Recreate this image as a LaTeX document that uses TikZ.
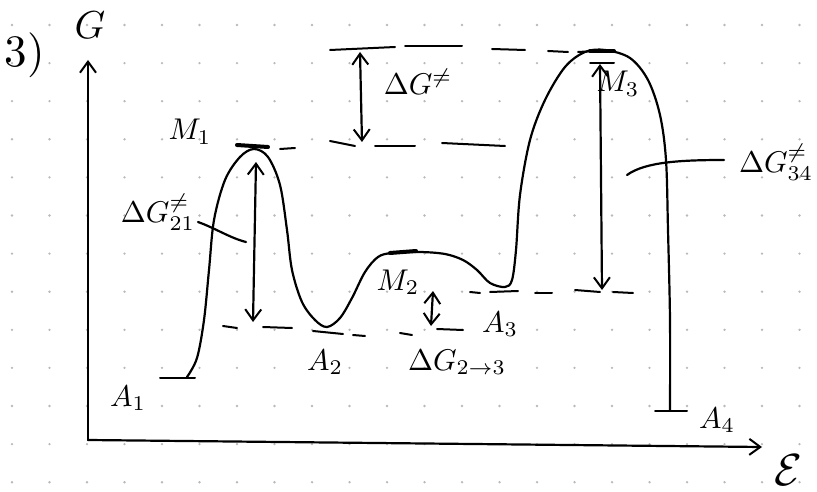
\documentclass[tikz,border=0pt]{standalone}
\usetikzlibrary{arrows.meta}
\begin{document}
\begin{tikzpicture}[x=1pt,y=-1pt,
  ink/.style={line width=2.2pt, line cap=round, line join=round, black},
  lvl/.style={line width=2pt, line cap=round, black},
  thk/.style={line width=4pt, line cap=round, black},
  barb/.tip={Straight Barb[length=11pt,width=16pt,line width=2pt]},
  lab/.style={font=\normalsize, inner sep=0pt, scale=3, transform shape},
  big/.style={font=\normalsize, inner sep=0pt, scale=4.5, transform shape},
  dotg/.style={fill=gray!55}
]
\useasboundingbox (0,0) rectangle (817,492);
% dot grid
\foreach \i in {0,...,21}{\foreach \j in {0,...,12}{
  \fill[dotg] ({12+37.5*\i},{25+38.1*\j}) circle (1.3pt);}}
% axes
\coordinate (O) at (88,440);
\coordinate (Gtop) at (88,60);
\coordinate (Eend) at (762,447);
\draw[ink,-barb] (O) -- (Gtop);
\draw[ink,-barb] (O) -- (Eend);
\node[big] (n3) at (25,55) {3)};
\node[lab,scale=1.3] (G) at (90,25) {$G$};
\node[big] (E) at (788,470) {$\mathcal{E}$};
% energy profile
\draw[ink] plot[smooth,tension=0.55] coordinates {
 (187,377) (197,358) (204,320) (209,270) (214,220) (225,180) (240,157) (254,149)
 (268,157) (280,185) (287,230) (292,270) (302,302) (315,320) (327,327) (340,318)
 (352,298) (365,272) (378,257) (392,253) (420,252) (445,254) (463,260) (477,270)
 (490,283) (505,287) (512,280) (516,250) (520,195) (530,140) (545,100) (565,67)
 (585,52) (605,50) (630,58) (648,80) (660,115) (666,160) (668,230) (670,320) (670,410)};
% levels
\draw[lvl] (160,378) -- (195,378);
\draw[lvl] (655,411) -- (687,411);
\draw[thk] (237,145) -- (268,147);
\draw[lvl] (280,149) -- (295,148);
\draw[thk] (390,253) -- (416,251);
\draw[thk] (590,51) -- (614,51);
\draw[lvl] (590,63) -- (614,63);
% top level
\draw[lvl] (330,50) -- (395,47);
\draw[lvl] (405,46) -- (462,46);
\draw[lvl] (492,49) -- (525,50);
\draw[lvl] (548,51) -- (568,52);
\draw[lvl] (578,52) -- (595,51);
% Delta G bottom level
\draw[lvl] (330,141) -- (355,146);
\draw[lvl] (375,146) -- (415,146);
\draw[lvl] (442,143) -- (505,146);
% A2 level
\draw[lvl] (223,326) -- (237,328);
\draw[lvl] (263,327) -- (292,328);
\draw[lvl] (313,331) -- (343,334);
\draw[lvl] (353,335) -- (365,336);
\draw[lvl] (400,333) -- (412,335);
\draw[lvl] (437,329) -- (463,330);
% A3 level
\draw[lvl] (470,292) -- (480,293);
\draw[lvl] (490,292) -- (518,291);
\draw[lvl] (535,293) -- (552,293);
\draw[lvl] (575,290) -- (600,292);
\draw[lvl] (613,292) -- (633,293);
% arrows
\coordinate (d1t) at (360,52); \coordinate (d1b) at (362,142);
\draw[ink,barb-barb] (d1t) -- (d1b);
\coordinate (d3t) at (600,64); \coordinate (d3b) at (602,290);
\draw[ink,barb-barb] (d3t) -- (d3b);
\coordinate (d21t) at (256,162); \coordinate (d21b) at (253,322);
\draw[ink,barb-barb] (d21t) -- (d21b);
\coordinate (d23t) at (433,291); \coordinate (d23b) at (431,326);
\draw[ink,barb-barb] (d23t) -- (d23b);
% labels
\node[lab] (M1) at (190,132) {$M_1$};
\node[lab] (dGt) at (418,82) {$\Delta G^{\neq}$};
\node[lab] (M3) at (618,84) {$M_3$};
\node[lab] (dG34) at (776,162) {$\Delta G^{\neq}_{34}$};
\node[lab] (dG21) at (158,212) {$\Delta G^{\neq}_{21}$};
\node[lab] (A1) at (128,398) {$A_1$};
\node[lab] (A2) at (325,362) {$A_2$};
\node[lab] (M2) at (398,282) {$M_2$};
\node[lab] (A3) at (500,324) {$A_3$};
\node[lab] (dG23) at (457,362) {$\Delta G_{2\to3}$};
\node[lab] (A4) at (717,420) {$A_4$};
% pointers
\coordinate (p21) at (246,242);
\coordinate (q21) at (198,222);
\draw[ink] (q21) .. controls (215,228) and (230,238) .. (p21);
\coordinate (p34) at (627,175);
\coordinate (q34) at (724,160);
\draw[ink] (q34) .. controls (680,160) and (645,162) .. (p34);
\end{tikzpicture}
\end{document}
